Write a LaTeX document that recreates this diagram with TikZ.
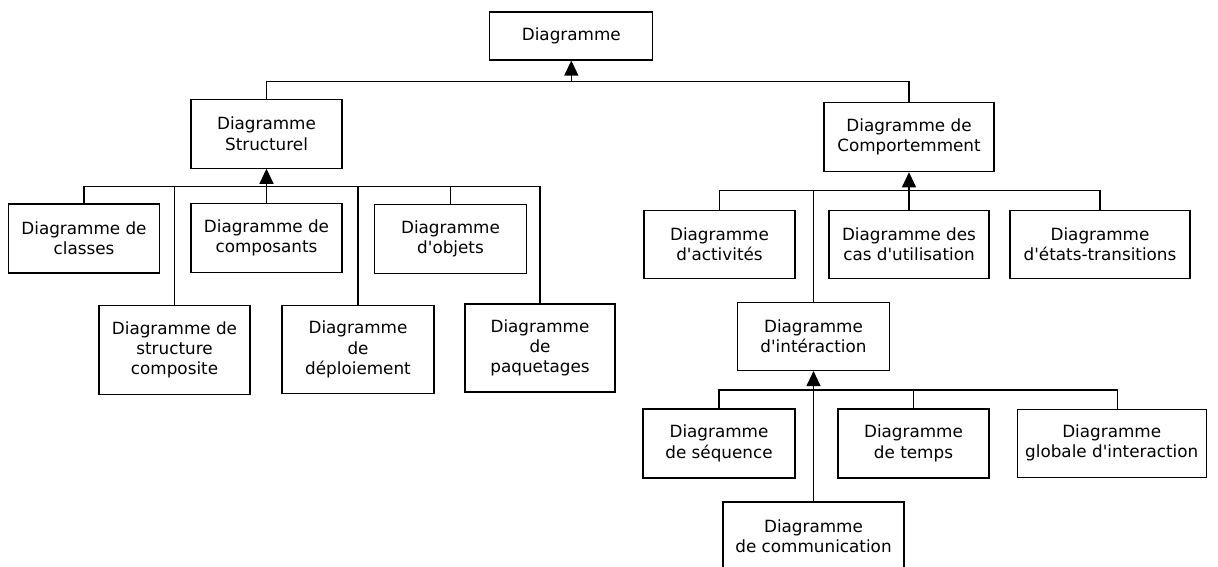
\documentclass[tikz,border=0pt]{standalone}
\usepackage{fontspec}
\setmainfont{DejaVu Sans}[Ligatures=TeXOff]
\usetikzlibrary{arrows.meta}

\begin{document}
\begin{tikzpicture}[x=1pt,y=1pt]
\tikzstyle{every node}+=[inner sep=0pt]
\tikzstyle{diag}=[draw, line width=1.1pt, align=center, minimum height=69pt, font=\fontsize{16.8}{20.3}\selectfont]
\tikzstyle{lien}=[line width=1.1pt]
\tikzstyle{herite}=[line width=1.1pt, -{Triangle[width=14pt,length=15pt]}]
\useasboundingbox (0,0) rectangle (1218,-567);
\node [diag, minimum width=163pt, minimum height=48pt] (diagramme) at (571.3,-36) {Diagramme};
\node [diag, minimum width=151pt] (struct) at (266.5,-133.7) {Diagramme\\Structurel};
\node [diag, minimum width=170pt] (comport) at (909,-137.2) {Diagramme de\\Comportemment};
\node [diag, minimum width=151pt] (classes) at (84,-238.5) {Diagramme de\\classes};
\node [diag, minimum width=151pt] (composants) at (266.5,-238.2) {Diagramme de\\composants};
\node [diag, minimum width=152pt] (objets) at (450.5,-238.7) {Diagramme\\d'objets};
\node [diag, minimum width=151pt, minimum height=89pt] (stcomposite) at (174.5,-349.7) {Diagramme de\\structure\\composite};
\node [diag, minimum width=152pt, minimum height=88pt] (deploiement) at (358,-349.5) {Diagramme\\de\\déploiement};
\node [diag, minimum width=150pt, minimum height=88pt] (paquetages) at (540,-348) {Diagramme\\de\\paquetages};
\node [diag, minimum width=151pt, minimum height=68pt] (activites) at (719.5,-244.2) {Diagramme\\d'activités};
\node [diag, minimum width=160pt, minimum height=68pt] (casutil) at (909,-244.2) {Diagramme des\\cas d'utilisation};
\node [diag, minimum width=180pt, minimum height=68pt] (etats) at (1100,-244.2) {Diagramme\\d'états-transitions};
\node [diag, minimum width=152pt, minimum height=68pt] (interaction) at (813.5,-336.5) {Diagramme\\d'intéraction};
\node [diag, minimum width=152pt] (sequence) at (719,-443.5) {Diagramme\\de séquence};
\node [diag, minimum width=151pt] (temps) at (913.5,-443.5) {Diagramme\\de temps};
\node [diag, minimum width=189pt, minimum height=68pt] (globale) at (1111.7,-443.2) {Diagramme\\globale d'interaction};
\node [diag, minimum width=181pt] (communication) at (813.5,-536.5) {Diagramme\\de communication};
\coordinate (b0) at (571.3,-81.7);
\draw [herite] (b0) -- (diagramme.south);
\draw [lien] (struct.north) |- (b0);
\draw [lien] (comport.north) |- (b0);
\coordinate (b1) at (266.5,-186.7);
\draw [herite] (b1) -- (struct.south);
\draw [lien] (classes.north) |- (b1);
\draw [lien] (stcomposite.north) |- (b1);
\draw [lien] (composants.north) -- (b1);
\draw [lien] (deploiement.north) |- (b1);
\draw [lien] (objets.north) |- (b1);
\draw [lien] (paquetages.north) |- (b1);
\coordinate (b2) at (909,-190.7);
\draw [herite] (b2) -- (comport.south);
\draw [lien] (activites.north) |- (b2);
\draw [lien] (interaction.north) |- (b2);
\draw [lien] (casutil.north) -- (b2);
\draw [lien] (etats.north) |- (b2);
\coordinate (b3) at (813.5,-390);
\draw [herite] (b3) -- (interaction.south);
\draw [lien] (sequence.north) |- (b3);
\draw [lien] (communication.north) -- (b3);
\draw [lien] (temps.north) |- (b3);
\draw [lien] ([xshift=6pt]globale.north) |- (b3);
\end{tikzpicture}
\end{document}
